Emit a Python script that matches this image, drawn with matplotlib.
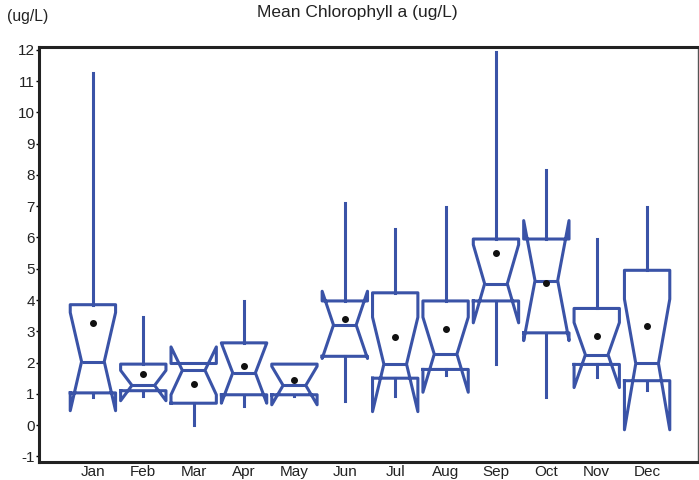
import matplotlib
matplotlib.use("Agg")
import matplotlib.pyplot as plt

plt.rcParams['font.family'] = ['Liberation Sans', 'DejaVu Sans']

months = ["Jan", "Feb", "Mar", "Apr", "May", "Jun", "Jul", "Aug", "Sep", "Oct", "Nov", "Dec"]
whislo = [0.89, 0.92, 0.00, 0.62, 0.93, 0.77, 0.92, 1.60, 1.94, 0.90, 1.54, 1.12]
q1     = [1.03, 1.10, 0.70, 0.97, 0.97, 2.20, 1.50, 1.78, 3.97, 2.95, 1.94, 1.42]
cilo   = [0.46, 0.78, 0.97, 0.70, 0.65, 2.13, 0.43, 1.05, 3.27, 2.70, 1.20, -0.15]
med    = [2.03, 1.27, 1.75, 1.67, 1.27, 3.20, 1.95, 2.27, 4.52, 4.62, 2.25, 1.97]
cihi   = [3.60, 1.75, 2.50, 2.62, 1.88, 4.28, 3.45, 3.45, 5.77, 6.54, 3.28, 4.03]
q3     = [3.85, 1.95, 1.97, 2.63, 1.95, 3.97, 4.23, 3.97, 5.95, 5.95, 3.73, 4.95]
whishi = [11.25, 3.45, 1.97, 3.97, 1.95, 7.10, 6.27, 6.96, 11.94, 8.15, 5.95, 6.96]
means  = [3.25, 1.62, 1.30, 1.88, 1.43, 3.40, 2.82, 3.07, 5.50, 4.55, 2.85, 3.17]
yticks = list(range(-1, 13))

stats = []
for i in range(len(months)):
    stats.append(dict(label=months[i], whislo=whislo[i], q1=q1[i], cilo=cilo[i],
                      med=med[i], cihi=cihi[i], q3=q3[i], whishi=whishi[i],
                      mean=means[i], fliers=[]))

blue = '#3a53a7'
fig = plt.figure(figsize=(6.99, 4.80), dpi=100)
ax = fig.add_axes([39/699, 1 - 462/480, (698 - 39)/699, (462 - 46.7)/480])

lw = 2.2
ax.bxp(stats, positions=range(1, 13), widths=0.9, shownotches=True, showmeans=True,
       showcaps=False, showfliers=False,
       boxprops=dict(color=blue, linewidth=lw),
       whiskerprops=dict(color=blue, linewidth=lw),
       medianprops=dict(color=blue, linewidth=lw),
       meanprops=dict(marker='o', markerfacecolor='#111111', markeredgecolor='#111111', markersize=4))

ax.set_xlim(-0.07, 13.01)
ax.set_ylim(-1.18, 12.1)
ax.set_yticks(yticks)
ax.set_yticklabels([str(t) for t in yticks], fontsize=11, color='#222222')
ax.set_xticks(range(1, 13))
ax.set_xticklabels(months, fontsize=11, color='#222222')
ax.tick_params(axis='x', length=0, pad=2)
ax.tick_params(axis='y', length=2, width=1, pad=1, direction='out')

for s in ['left', 'top', 'bottom']:
    ax.spines[s].set_linewidth(2.2)
    ax.spines[s].set_color('#222222')
ax.spines['right'].set_linewidth(1.0)
ax.spines['right'].set_color('#555555')

fig.text(357/699, 1 - 13/480, "Mean Chlorophyll a (ug/L)", ha='center', va='center', fontsize=12.5, color='#222222')
fig.text(7/699, 1 - 16.5/480, "(ug/L)", ha='left', va='center', fontsize=11.3, color='#222222')

fig.savefig("out.png", dpi=100)
